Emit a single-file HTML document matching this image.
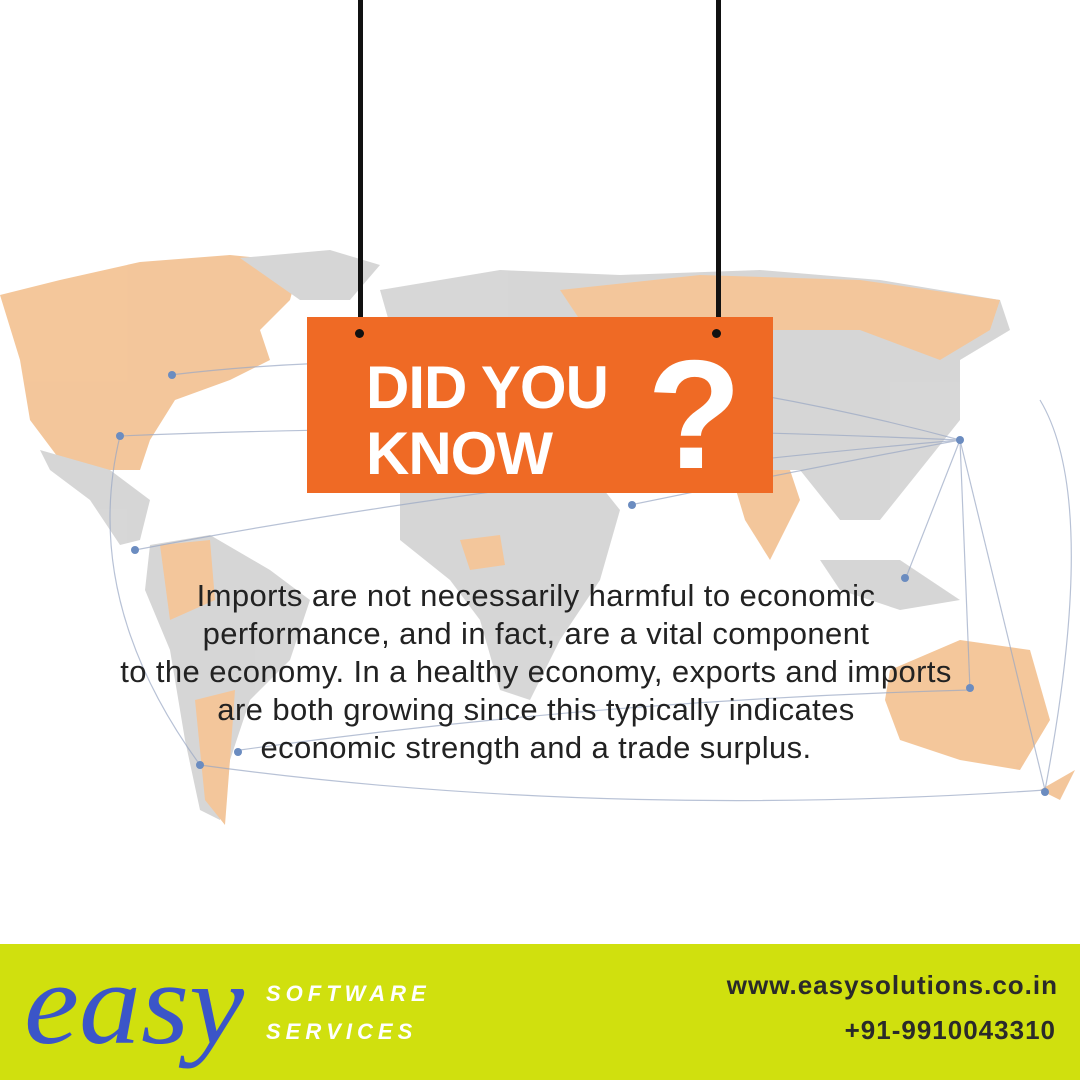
<!DOCTYPE html>
<html><head><meta charset="utf-8"><style>
body{margin:0;width:1080px;height:1080px;overflow:hidden;background:#fff;position:relative;font-family:"Liberation Sans",sans-serif}
.abs{position:absolute}
</style></head><body>
<svg class="abs" style="left:0;top:0" width="1080" height="944" viewBox="0 0 1080 944">
<g opacity="0.75">
<path d="M0 295 L60 280 L140 262 L230 255 L300 262 L290 300 L260 330 L270 360 L230 380 L175 400 L150 440 L140 470 L100 470 L60 460 L30 420 L20 360 Z" fill="#f0b47a"/>
<path d="M240 258 L330 250 L380 265 L350 300 L300 300 Z" fill="#c9c9c9"/>
<path d="M40 450 L110 470 L150 500 L140 540 L120 545 L90 500 L50 470 Z" fill="#c9c9c9"/>
<path d="M150 545 L210 535 L270 570 L310 600 L290 660 L250 700 L230 760 L220 820 L200 810 L185 740 L170 650 L145 590 Z" fill="#c9c9c9"/>
<path d="M160 545 L210 540 L215 600 L170 620 Z M195 700 L235 690 L230 760 L225 825 L205 800 Z" fill="#f0b47a"/>
<path d="M380 290 L500 270 L620 275 L760 270 L880 280 L1000 300 L1010 330 L960 360 L960 420 L920 470 L880 520 L840 520 L800 470 L740 470 L680 480 L640 480 L600 440 L560 430 L480 430 L420 410 L400 360 Z" fill="#c9c9c9"/>
<path d="M560 290 L700 275 L860 280 L1000 300 L990 330 L940 360 L860 330 L760 330 L640 330 L580 320 Z" fill="#f0b47a"/>
<path d="M730 470 L790 470 L800 500 L770 560 L745 520 Z" fill="#f0b47a"/>
<path d="M400 470 L480 450 L580 460 L620 510 L600 580 L560 640 L530 700 L500 690 L480 620 L450 580 L400 540 Z" fill="#c9c9c9"/>
<path d="M460 540 L500 535 L505 565 L470 570 Z" fill="#f0b47a"/>
<path d="M820 560 L900 560 L960 600 L900 610 L840 590 Z" fill="#c9c9c9"/>
<path d="M890 670 L960 640 L1030 650 L1050 720 L1020 770 L960 760 L900 740 L885 700 Z" fill="#f0b47a"/>
<path d="M1040 790 L1075 770 L1060 800 Z" fill="#f0b47a"/>
</g>
<g fill="none" stroke="#9aa8c4" stroke-width="1.2" opacity="0.7">
<path d="M120 436 Q500 420 960 440"/><path d="M170 375 Q550 330 960 440"/>
<path d="M135 550 Q500 480 960 440"/><path d="M200 765 Q600 820 1045 790"/>
<path d="M960 440 L1045 790"/><path d="M960 440 L970 690"/><path d="M960 440 L905 580"/>
<path d="M630 505 Q800 470 960 440"/><path d="M120 436 Q80 600 200 765"/>
<path d="M1040 400 Q1100 500 1045 790"/><path d="M240 750 Q600 700 970 690"/>
</g>
<g fill="#6b8cc0"><circle cx="120" cy="436" r="4"/><circle cx="172" cy="375" r="4"/><circle cx="135" cy="550" r="4"/><circle cx="200" cy="765" r="4"/><circle cx="238" cy="752" r="4"/><circle cx="632" cy="505" r="4"/><circle cx="960" cy="440" r="4"/><circle cx="905" cy="578" r="4"/><circle cx="970" cy="688" r="4"/><circle cx="1045" cy="792" r="4"/></g>
</svg>
<div class="abs" style="left:358px;top:0;width:5px;height:335px;background:#111"></div>
<div class="abs" style="left:716px;top:0;width:5px;height:335px;background:#111"></div>
<div class="abs" style="left:307px;top:317px;width:466px;height:176px;background:#ef6a25">
<div class="abs" style="left:48px;top:12px;width:9px;height:9px;border-radius:50%;background:#111"></div>
<div class="abs" style="left:405px;top:12px;width:9px;height:9px;border-radius:50%;background:#111"></div>
<div class="abs" style="left:59px;top:38px;color:#fff;font-weight:bold;font-size:60px;line-height:66px;letter-spacing:-1px">DID YOU<br>KNOW</div>
<div class="abs" style="left:340px;top:20px;color:#fff;font-weight:bold;font-size:155px;line-height:155px">?</div>
</div>
<div class="abs" style="left:-20px;top:577px;width:1112px;text-align:center;font-size:31px;line-height:38px;letter-spacing:0.4px;color:#222">Imports are not necessarily harmful to economic<br>performance, and in fact, are a vital component<br>to the economy. In a healthy economy, exports and imports<br>are both growing since this typically indicates<br>economic strength and a trade surplus.</div>
<div class="abs" style="left:0;top:944px;width:1080px;height:136px;background:#d0e00e">
<div class="abs" style="left:24px;top:-8px;font-family:'Liberation Serif',serif;font-style:italic;font-size:118px;color:#3b55c8;transform:scaleX(1.05);transform-origin:left">easy</div>
<div class="abs" style="left:266px;top:31px;color:#fff;font-weight:bold;font-style:italic;font-size:22px;line-height:38px;letter-spacing:5px">SOFTWARE<br>SERVICES</div>
<div class="abs" style="right:22px;top:26px;color:#2a2a2a;font-weight:bold;font-size:26px;letter-spacing:1px">www.easysolutions.co.in</div>
<div class="abs" style="right:24px;top:71px;color:#2a2a2a;font-weight:bold;font-size:26px;letter-spacing:1px">+91-9910043310</div>
</div>
</body></html>
